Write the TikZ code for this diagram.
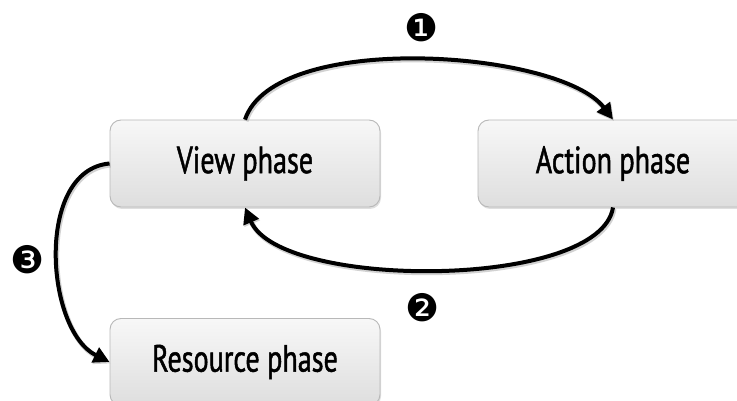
\documentclass[tikz,border=0pt]{standalone}
\usepackage{fontspec}
\setmainfont[FakeStretch=0.74,FakeBold=1.2]{PT Sans}
\newfontfamily\dingfont{DejaVu Sans}
\usetikzlibrary{arrows.meta,shadows}

\tikzset{
    phasebox/.style={rounded corners=11pt,draw=black!28,line width=0.9pt,
        top color=black!3,bottom color=black!13,
        drop shadow={shadow xshift=1pt,shadow yshift=-2pt,opacity=0.25},
        minimum width=270pt,minimum height=87pt,inner sep=0pt,
        font=\fontsize{38pt}{40pt}\selectfont},
    flow/.style={line width=4pt,-{Triangle[length=16pt,width=16pt]},
        preaction={draw,black!35,line width=5pt,transform canvas={shift={(1pt,-1.5pt)}},opacity=0.5}},
    step num/.style={font=\dingfont\fontsize{38pt}{38pt}\selectfont,inner sep=0pt}
}

\begin{document}
\begin{tikzpicture}[x=1pt,y=-1pt]
    \useasboundingbox (0,0) rectangle (737,401);
    \clip (0,0) rectangle (737,401);
    % the three phases
    \node[phasebox] (view) at (245,163.5) {View phase};
    \node[phasebox] (action) at (613,163.5) {Action phase};
    \node[phasebox] (resource) at (245,362) {Resource phase};
    % numbers
    \node[step num] (n1) at (422,28) {❶};
    \node[step num] (n2) at (423,308) {❷};
    \node[step num] (n3) at (28,260) {❸};
    % arrows
    \draw[flow] (view.north) .. controls (275,30) and (560,50) .. (action.north);
    \draw[flow] (action.south) .. controls (600,290) and (280,290) .. (view.south);
    \draw[flow] (view.west) .. controls (35,170) and (45,330) .. (resource.west);
\end{tikzpicture}
\end{document}
